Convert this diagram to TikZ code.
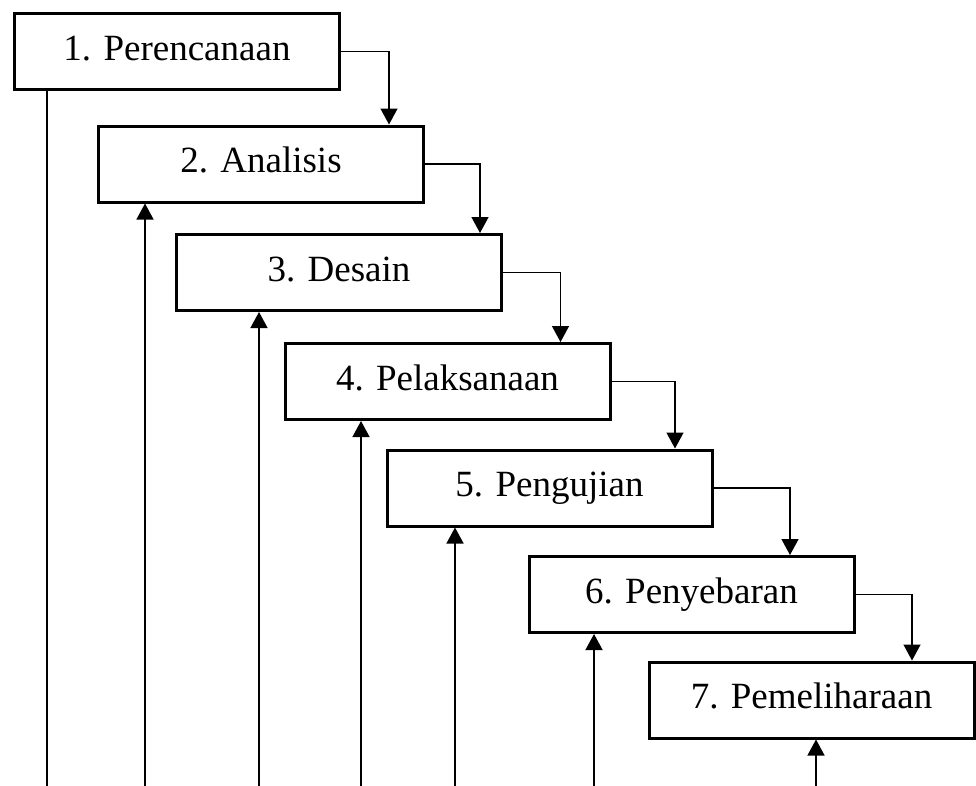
\documentclass[tikz,border=0pt]{standalone}
\usepackage{fontspec}
\setmainfont{Liberation Serif}
\usetikzlibrary{arrows.meta}
\begin{document}
\begin{tikzpicture}[x=1pt,y=-1pt,
  stagebox/.style={draw,line width=3pt,minimum width=325pt,minimum height=76pt,
    inner sep=0pt,text height=25pt,text depth=8pt,
    font=\fontsize{37}{44}\selectfont},
  conn/.style={line width=1.4pt,-{Triangle[width=17pt,length=16pt]}},
  back/.style={line width=1.4pt,{Triangle[width=17pt,length=16pt]}-}]
\useasboundingbox (0,0) rectangle (976,785);
\coordinate (bot) at (0,800);
\node[stagebox] (b1) at (177,51.5) {1. Perencanaan};
\node[stagebox] (b2) at (261,164) {2. Analisis};
\node[stagebox] (b3) at (339,272.5) {3. Desain};
\node[stagebox] (b4) at (447.5,381.5) {4. Pelaksanaan};
\node[stagebox] (b5) at (549.5,488) {5. Pengujian};
\node[stagebox] (b6) at (691.5,594.5) {6. Penyebaran};
\node[stagebox] (b7) at (811.5,700) {7. Pemeliharaan};
% forward connectors
\draw[conn] (b1.east) -| ([xshift=128pt]b2.north);
\draw[conn] (b2.east) -| ([xshift=141pt]b3.north);
\draw[conn] (b3.east) -| ([xshift=113pt]b4.north);
\draw[conn] (b4.east) -| ([xshift=125.5pt]b5.north);
\draw[conn] (b5.east) -| ([xshift=98.5pt]b6.north);
\draw[conn] (b6.east) -| ([xshift=100.5pt]b7.north);
% feedback lines
\draw[line width=1.4pt] ([xshift=-130pt]b1.south) -- ([xshift=-130pt]b1.south |- bot);
\draw[back] ([xshift=-116pt]b2.south) -- ([xshift=-116pt]b2.south |- bot);
\draw[back] ([xshift=-80pt]b3.south) -- ([xshift=-80pt]b3.south |- bot);
\draw[back] ([xshift=-86.5pt]b4.south) -- ([xshift=-86.5pt]b4.south |- bot);
\draw[back] ([xshift=-94.5pt]b5.south) -- ([xshift=-94.5pt]b5.south |- bot);
\draw[back] ([xshift=-97.5pt]b6.south) -- ([xshift=-97.5pt]b6.south |- bot);
\draw[back] ([xshift=4.5pt]b7.south) -- ([xshift=4.5pt]b7.south |- bot);
\end{tikzpicture}
\end{document}
